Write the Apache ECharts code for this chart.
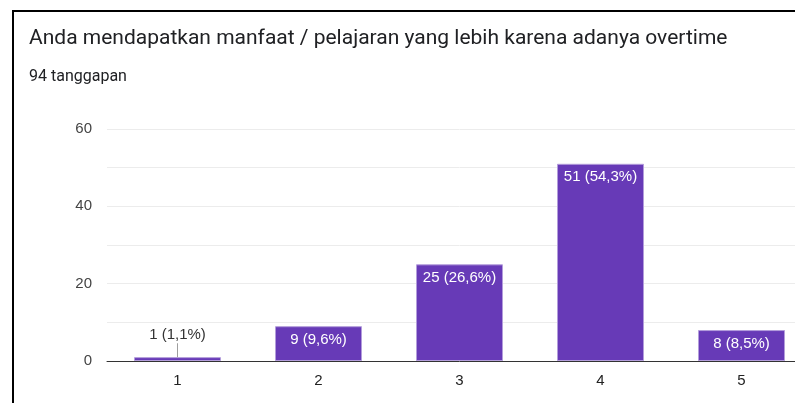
<!doctype html>
<html>
	<head>
		<meta charset="utf-8">
		<title>Overtime</title>
		<style>
			html, body { margin: 0; padding: 0; overflow: hidden; background: #fff; }
		</style>
	</head>
	<body>
		<div id="container" style="height: 403px; width: 830px;"></div>

		<script src="https://cdn.jsdelivr.net/npm/echarts@6/dist/echarts.min.js"></script>

		<script>
			var titleText = 'Anda mendapatkan manfaat / pelajaran yang lebih karena adanya overtime';
			var subText = '94 tanggapan';
			var categories = ['1', '2', '3', '4', '5'];
			var counts = [1, 9, 25, 51, 8];
			var percents = ['1,1%', '9,6%', '26,6%', '54,3%', '8,5%'];
			var yTicks = [0, 20, 40, 60];

			var dom = document.getElementById('container');
			var myChart = echarts.init(dom);

			var barData = counts.map(function (v, i) {
				var item = { value: v };
				if (v < 5) {
					// small bar: label sits above, with a little leader line
					item.label = {
						position: 'top',
						distance: 0,
						color: '#333',
						formatter: function (p) {
							return '{t|' + p.value + ' (' + percents[p.dataIndex] + ')}\n{l|}';
						},
						rich: {
							t: { fontFamily: 'Liberation Sans', fontSize: 15, color: '#333', lineHeight: 17 },
							l: { width: 1, height: 14, backgroundColor: '#9e9e9e' }
						}
					};
				}
				return item;
			});

			var opts = {
				animation: false,
				title: [
					{
						text: titleText,
						left: 24,
						top: 23,
						textStyle: {
							fontFamily: 'Roboto',
							fontSize: 21,
							fontWeight: 'normal',
							color: '#202124'
						}
					},
					{
						text: subText,
						left: 24,
						top: 64,
						textStyle: {
							fontFamily: 'Roboto',
							fontSize: 16,
							fontWeight: 'normal',
							color: '#202124'
						}
					}
				],
				graphic: [
					{
						type: 'polyline',
						shape: { points: [[13, 403], [13, 11], [830, 11]] },
						style: { stroke: '#000', lineWidth: 2, fill: null }
					}
				],
				grid: {
					left: 107,
					right: 18,
					top: 129,
					bottom: 42
				},
				xAxis: {
					type: 'category',
					data: categories,
					axisLine: { lineStyle: { color: '#333', width: 1 } },
					axisTick: { show: false },
					axisLabel: {
						fontFamily: 'Liberation Sans',
						fontSize: 15,
						color: '#222',
						margin: 12
					}
				},
				yAxis: {
					type: 'value',
					min: 0,
					max: 60,
					interval: 10,
					axisLine: { show: false },
					axisTick: { show: false },
					splitLine: { lineStyle: { color: '#ececec', width: 1 } },
					axisLabel: {
						fontFamily: 'Liberation Sans',
						fontSize: 15,
						color: '#444',
						margin: 15,
						formatter: function (v) {
							return yTicks.indexOf(v) >= 0 ? String(v) : '';
						}
					}
				},
				series: [
					{
						type: 'bar',
						data: barData,
						barWidth: 87,
						itemStyle: {
							color: '#673ab7',
							borderColor: '#b39ddb',
							borderWidth: 1
						},
						label: {
							show: true,
							position: 'insideTop',
							distance: 6,
							color: '#fff',
							fontFamily: 'Liberation Sans',
							fontSize: 15,
							formatter: function (p) {
								return p.value + ' (' + percents[p.dataIndex] + ')';
							}
						}
					}
				]
			};

			myChart.setOption(opts, true);
		</script>
	</body>
</html>
